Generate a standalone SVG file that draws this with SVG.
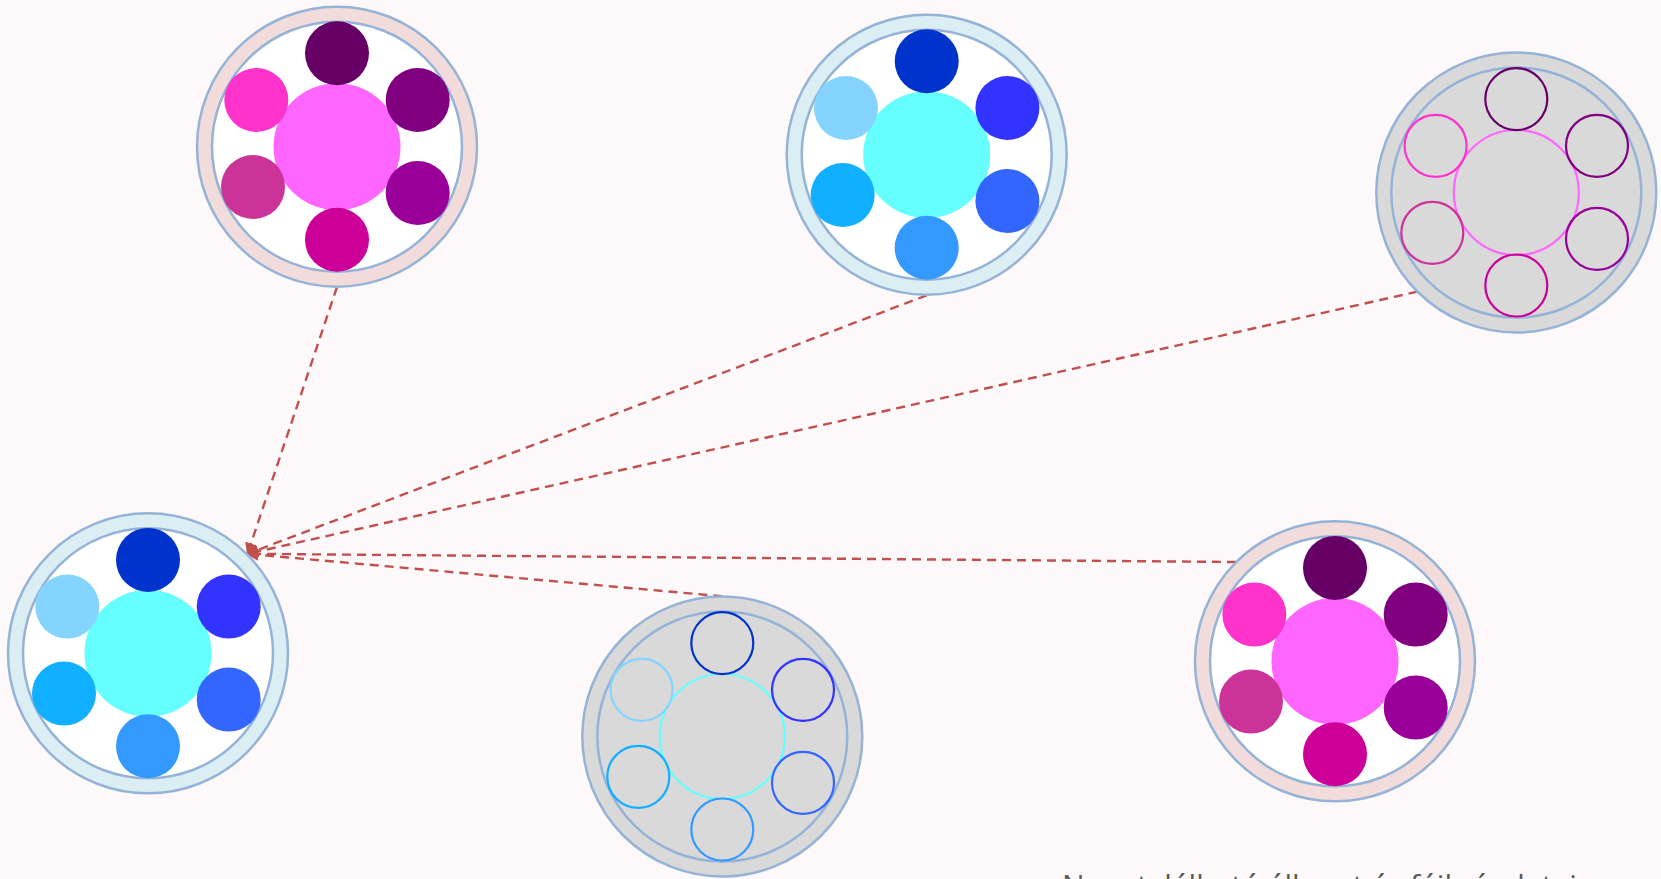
<svg xmlns="http://www.w3.org/2000/svg" width="1661" height="879" viewBox="0 0 1661 879">
<style>
.ring{stroke:#95B3D7;stroke-width:2.5}
.pinkring{fill:#F2DCDB}
.bluering{fill:#DBEEF4}
.grayring{fill:#D9D9D9}
.inwhite{fill:#FFFFFF}
.ingray{fill:#D9D9D9}
.o{fill:none;stroke-width:2.2}
.edge{fill:none;stroke:#C0504D;stroke-width:2.4;stroke-dasharray:9 6}
.lbl{font-family:"Open Sans","Liberation Sans",sans-serif;font-size:30px;fill:#595959}
</style>
<defs>
<marker id="arr" viewBox="0 0 10 10" refX="9" refY="5" markerWidth="5" markerHeight="5" orient="auto" markerUnits="strokeWidth">
<path d="M0,0 L10,5 L0,10 z" fill="#C0504D"/>
</marker>
</defs>
<rect width="1661" height="879" fill="#FDF9FA"/>

<g id="connectors">
<line class="edge" x1="337" y1="287" x2="247.5" y2="553.8" marker-end="url(#arr)"/>
<line class="edge" x1="926.7" y1="295.3" x2="247.5" y2="553.8" marker-end="url(#arr)"/>
<line class="edge" x1="1417.3" y1="291.7" x2="247.5" y2="553.8" marker-end="url(#arr)"/>
<line class="edge" x1="1236" y1="562" x2="247.5" y2="553.8" marker-end="url(#arr)"/>
<line class="edge" x1="722.3" y1="596.3" x2="247.5" y2="553.8" marker-end="url(#arr)"/>
</g>

<g id="node-top-left" transform="translate(337,146.7)">
<circle class="ring pinkring" r="140"/>
<circle class="ring inwhite" r="125"/>
<circle r="63.5" fill="#FF66FF"/>
<circle cx="0" cy="-93.4" r="32" fill="#660066"/>
<circle cx="80.7" cy="-46.7" r="32" fill="#800080"/>
<circle cx="80.7" cy="46.3" r="32" fill="#990099"/>
<circle cx="0" cy="93" r="32" fill="#CC0099"/>
<circle cx="-84" cy="40.3" r="32" fill="#CC3399"/>
<circle cx="-80.7" cy="-46.7" r="32" fill="#FF33CC"/>
</g>

<g id="node-top-middle" transform="translate(926.7,154.7)">
<circle class="ring bluering" r="140"/>
<circle class="ring inwhite" r="125"/>
<circle r="63.5" fill="#66FFFF"/>
<circle cx="0" cy="-93.4" r="32" fill="#0033CC"/>
<circle cx="80.7" cy="-46.7" r="32" fill="#3333FF"/>
<circle cx="80.7" cy="46.3" r="32" fill="#3366FF"/>
<circle cx="0" cy="93" r="32" fill="#3399FF"/>
<circle cx="-84" cy="40.3" r="32" fill="#11AFFF"/>
<circle cx="-80.7" cy="-46.7" r="32" fill="#85D4FF"/>
</g>

<g id="node-top-right" transform="translate(1516.3,192.5)">
<circle class="ring grayring" r="140"/>
<circle class="ring ingray" r="125"/>
<circle class="o" r="62.5" stroke="#FF66FF"/>
<circle class="o" cx="0" cy="-93.4" r="31" stroke="#660066"/>
<circle class="o" cx="80.7" cy="-46.7" r="31" stroke="#800080"/>
<circle class="o" cx="80.7" cy="46.3" r="31" stroke="#990099"/>
<circle class="o" cx="0" cy="93" r="31" stroke="#CC0099"/>
<circle class="o" cx="-84" cy="40.3" r="31" stroke="#CC3399"/>
<circle class="o" cx="-80.7" cy="-46.7" r="31" stroke="#FF33CC"/>
</g>

<g id="node-bottom-left" transform="translate(148,653.3)">
<circle class="ring bluering" r="140"/>
<circle class="ring inwhite" r="125"/>
<circle r="63.5" fill="#66FFFF"/>
<circle cx="0" cy="-93.4" r="32" fill="#0033CC"/>
<circle cx="80.7" cy="-46.7" r="32" fill="#3333FF"/>
<circle cx="80.7" cy="46.3" r="32" fill="#3366FF"/>
<circle cx="0" cy="93" r="32" fill="#3399FF"/>
<circle cx="-84" cy="40.3" r="32" fill="#11AFFF"/>
<circle cx="-80.7" cy="-46.7" r="32" fill="#85D4FF"/>
</g>

<g id="node-bottom-middle" transform="translate(722.3,736.5)">
<circle class="ring grayring" r="140"/>
<circle class="ring ingray" r="125"/>
<circle class="o" r="62.5" stroke="#66FFFF"/>
<circle class="o" cx="0" cy="-93.4" r="31" stroke="#0033CC"/>
<circle class="o" cx="80.7" cy="-46.7" r="31" stroke="#3333FF"/>
<circle class="o" cx="80.7" cy="46.3" r="31" stroke="#3366FF"/>
<circle class="o" cx="0" cy="93" r="31" stroke="#3399FF"/>
<circle class="o" cx="-84" cy="40.3" r="31" stroke="#11AFFF"/>
<circle class="o" cx="-80.7" cy="-46.7" r="31" stroke="#85D4FF"/>
</g>

<g id="node-bottom-right" transform="translate(1335,661.3)">
<circle class="ring pinkring" r="140"/>
<circle class="ring inwhite" r="125"/>
<circle r="63.5" fill="#FF66FF"/>
<circle cx="0" cy="-93.4" r="32" fill="#660066"/>
<circle cx="80.7" cy="-46.7" r="32" fill="#800080"/>
<circle cx="80.7" cy="46.3" r="32" fill="#990099"/>
<circle cx="0" cy="93" r="32" fill="#CC0099"/>
<circle cx="-84" cy="40.3" r="32" fill="#CC3399"/>
<circle cx="-80.7" cy="-46.7" r="32" fill="#FF33CC"/>
</g>

<g id="caption">
<text class="lbl" x="1062" y="896">Nem található állapot és fájl részletei</text>
</g>
</svg>
